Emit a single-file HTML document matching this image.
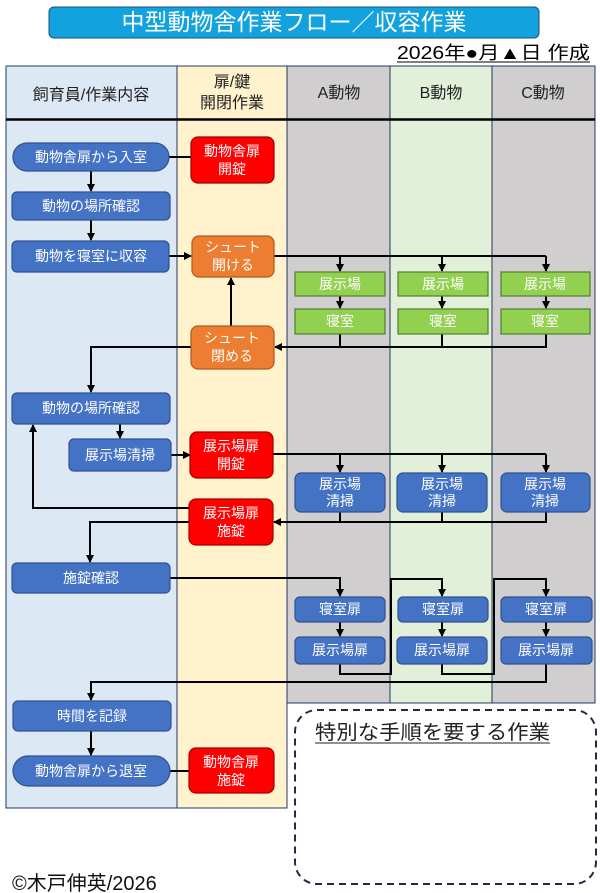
<!DOCTYPE html>
<html><head><meta charset="utf-8"><style>
html,body{margin:0;padding:0;background:#fff;}
svg{display:block;}
text{font-family:"Liberation Sans","Noto Sans CJK JP",sans-serif;}
</style></head><body>
<svg width="600" height="893" viewBox="0 0 600 893" xmlns="http://www.w3.org/2000/svg">
<defs>
<marker id="ar" markerWidth="8" markerHeight="8" refX="7" refY="4" orient="auto" markerUnits="userSpaceOnUse">
<path d="M0,0 L8,4 L0,8 Z" fill="#000"/></marker>
</defs>
<!-- title -->
<rect x="49" y="7" width="490" height="31" rx="5" fill="#12a3de" stroke="#1f4e79" stroke-width="1"/>
<text x="294" y="30" font-size="23" fill="#fff" text-anchor="middle">中型動物舎作業フロー／収容作業</text>
<text x="397" y="59" font-size="18" fill="#000" textLength="193" lengthAdjust="spacingAndGlyphs">2026年●月▲日 作成</text>
<line x1="397" y1="62" x2="590" y2="62" stroke="#000" stroke-width="1"/>
<!-- lanes -->
<rect x="6" y="66" width="171" height="742" fill="#dde8f5"/>
<rect x="177" y="66" width="110" height="742" fill="#fff2cc"/>
<rect x="287" y="66" width="103" height="637" fill="#d0cece"/>
<rect x="390" y="66" width="102" height="637" fill="#e2efd9"/>
<rect x="492" y="66" width="103" height="637" fill="#d0cece"/>
<g stroke="#203864" stroke-width="1" fill="none">
<path d="M6,66 H595 V703 H287"/>
<path d="M6,66 V808 H287 V66"/>
<line x1="177" y1="66" x2="177" y2="808"/>
<line x1="390" y1="66" x2="390" y2="703"/>
<line x1="492" y1="66" x2="492" y2="703"/>
</g>
<line x1="6" y1="119.5" x2="595" y2="119.5" stroke="#000" stroke-width="2.5"/>
<g font-size="16" fill="#222" text-anchor="middle">
<text x="91" y="100">飼育員/作業内容</text>
<text x="232" y="87">扉/鍵</text>
<text x="232" y="108">開閉作業</text>
<text x="339" y="98">A動物</text>
<text x="441" y="98">B動物</text>
<text x="543" y="98">C動物</text>
</g>
<!-- connectors -->
<g stroke="#000" stroke-width="2" fill="none">
<line x1="147" y1="157" x2="191" y2="157"/>
<line x1="91" y1="171" x2="91" y2="191" marker-end="url(#ar)"/>
<line x1="91" y1="220" x2="91" y2="240" marker-end="url(#ar)"/>
<line x1="169" y1="256" x2="191" y2="256" marker-end="url(#ar)"/>
<path d="M274,256 H546"/>
<line x1="340" y1="256" x2="340" y2="271" marker-end="url(#ar)"/>
<line x1="442" y1="256" x2="442" y2="271" marker-end="url(#ar)"/>
<line x1="546" y1="256" x2="546" y2="271" marker-end="url(#ar)"/>
<line x1="340" y1="296" x2="340" y2="308" marker-end="url(#ar)"/>
<line x1="442" y1="296" x2="442" y2="308" marker-end="url(#ar)"/>
<line x1="546" y1="296" x2="546" y2="308" marker-end="url(#ar)"/>
<path d="M340,334 V347 M442,334 V347 M546,334 V347 H275" marker-end="url(#ar)"/>
<line x1="231" y1="326" x2="231" y2="278" marker-end="url(#ar)"/>
<path d="M191,347 H91 V392" marker-end="url(#ar)"/>
<line x1="120" y1="424" x2="120" y2="438" marker-end="url(#ar)"/>
<line x1="171" y1="455" x2="190" y2="455" marker-end="url(#ar)"/>
<path d="M273,454 H546"/>
<line x1="340" y1="454" x2="340" y2="472" marker-end="url(#ar)"/>
<line x1="442" y1="454" x2="442" y2="472" marker-end="url(#ar)"/>
<line x1="546" y1="454" x2="546" y2="472" marker-end="url(#ar)"/>
<path d="M340,512 V522 M442,512 V522 M546,512 V522 H274" marker-end="url(#ar)"/>
<path d="M189,508 H33 V425" marker-end="url(#ar)"/>
<path d="M189,522 H90 V562" marker-end="url(#ar)"/>
<path d="M170,578 H340 V596" marker-end="url(#ar)"/>
<line x1="340" y1="622" x2="340" y2="636" marker-end="url(#ar)"/>
<line x1="442" y1="622" x2="442" y2="636" marker-end="url(#ar)"/>
<line x1="546" y1="622" x2="546" y2="636" marker-end="url(#ar)"/>
<path d="M340,664 V674 H391 V579 H442 V596" marker-end="url(#ar)"/>
<path d="M442,664 V674 H494 V579 H546 V596" marker-end="url(#ar)"/>
<path d="M546,664 V682 H91 V700" marker-end="url(#ar)"/>
<line x1="91" y1="731" x2="91" y2="755" marker-end="url(#ar)"/>
<line x1="170" y1="771" x2="189" y2="771"/>
</g>
<!-- nodes -->
<g stroke-width="1.2">
<rect x="13" y="143" width="156" height="28" rx="14" fill="#4472c4" stroke="#2f528f"/>
<rect x="12" y="192" width="158" height="28" rx="5" fill="#4472c4" stroke="#2f528f"/>
<rect x="12" y="241" width="157" height="31" rx="5" fill="#4472c4" stroke="#2f528f"/>
<rect x="12" y="393" width="158" height="31" rx="5" fill="#4472c4" stroke="#2f528f"/>
<rect x="69" y="439" width="102" height="32" rx="5" fill="#4472c4" stroke="#2f528f"/>
<rect x="12" y="563" width="158" height="30" rx="5" fill="#4472c4" stroke="#2f528f"/>
<rect x="13" y="701" width="158" height="30" rx="5" fill="#4472c4" stroke="#2f528f"/>
<rect x="13" y="756" width="157" height="30" rx="15" fill="#4472c4" stroke="#2f528f"/>
<rect x="191" y="137" width="83" height="46" rx="7" fill="#ff0000" stroke="#a00000"/>
<rect x="190" y="432" width="83" height="46" rx="7" fill="#ff0000" stroke="#a00000"/>
<rect x="189" y="499" width="84" height="46" rx="7" fill="#ff0000" stroke="#a00000"/>
<rect x="189" y="748" width="85" height="45" rx="7" fill="#ff0000" stroke="#a00000"/>
<rect x="192" y="236" width="82" height="41" rx="7" fill="#ed7d31" stroke="#ae5a21"/>
<rect x="191" y="326" width="83" height="43" rx="7" fill="#ed7d31" stroke="#ae5a21"/>
<g fill="#92d050" stroke="#507e32">
<rect x="295" y="272" width="90" height="24"/><rect x="398" y="272" width="90" height="24"/><rect x="501" y="272" width="89" height="24"/>
<rect x="295" y="309" width="90" height="25"/><rect x="398" y="309" width="90" height="25"/><rect x="501" y="309" width="89" height="25"/>
</g>
<g fill="#4472c4" stroke="#2f528f">
<rect x="295" y="473" width="90" height="39" rx="6"/><rect x="397" y="473" width="90" height="39" rx="6"/><rect x="501" y="473" width="89" height="39" rx="6"/>
<rect x="295" y="597" width="90" height="25" rx="5"/><rect x="398" y="597" width="90" height="25" rx="5"/><rect x="501" y="597" width="91" height="25" rx="5"/>
<rect x="295" y="637" width="90" height="27" rx="5"/><rect x="397" y="637" width="90" height="27" rx="5"/><rect x="501" y="637" width="91" height="27" rx="5"/>
</g>
</g>
<g font-size="14" fill="#fff" text-anchor="middle">
<text x="91" y="162">動物舎扉から入室</text>
<text x="91" y="211">動物の場所確認</text>
<text x="91" y="261">動物を寝室に収容</text>
<text x="91" y="413">動物の場所確認</text>
<text x="120" y="460">展示場清掃</text>
<text x="91" y="583">施錠確認</text>
<text x="92" y="721">時間を記録</text>
<text x="91" y="776">動物舎扉から退室</text>
<text x="232" y="156">動物舎扉</text><text x="232" y="174">開錠</text>
<text x="231" y="451">展示場扉</text><text x="231" y="469">開錠</text>
<text x="231" y="518">展示場扉</text><text x="231" y="536">施錠</text>
<text x="231" y="767">動物舎扉</text><text x="231" y="785">施錠</text>
<text x="233" y="252">シュート</text><text x="233" y="270">開ける</text>
<text x="232" y="343">シュート</text><text x="232" y="361">閉める</text>
<text x="340" y="289">展示場</text><text x="443" y="289">展示場</text><text x="545" y="289">展示場</text>
<text x="340" y="326">寝室</text><text x="443" y="326">寝室</text><text x="545" y="326">寝室</text>
<text x="340" y="489">展示場</text><text x="442" y="489">展示場</text><text x="545" y="489">展示場</text>
<text x="340" y="506">清掃</text><text x="442" y="506">清掃</text><text x="545" y="506">清掃</text>
<text x="340" y="614">寝室扉</text><text x="443" y="614">寝室扉</text><text x="546" y="614">寝室扉</text>
<text x="340" y="655">展示場扉</text><text x="442" y="655">展示場扉</text><text x="546" y="655">展示場扉</text>
</g>
<!-- special box -->
<rect x="295" y="710" width="301" height="174" rx="22" fill="none" stroke="#1f2a44" stroke-width="2" stroke-dasharray="7,5"/>
<text x="315" y="739" font-size="20" fill="#222" textLength="235" lengthAdjust="spacingAndGlyphs">特別な手順を要する作業</text>
<line x1="315" y1="743" x2="550" y2="743" stroke="#222" stroke-width="1"/>
<text x="12" y="890" font-size="20" fill="#111">©木戸伸英/2026</text>
</svg>
</body></html>
